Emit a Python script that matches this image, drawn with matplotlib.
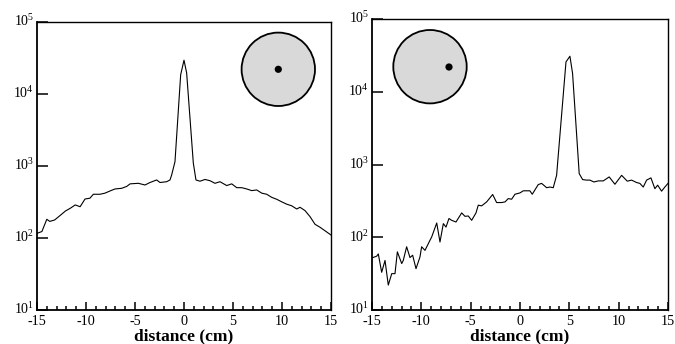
import matplotlib
matplotlib.use("Agg")
import matplotlib.pyplot as plt
import matplotlib.transforms as mtransforms
from matplotlib.patches import Circle
from matplotlib.ticker import MultipleLocator, LogLocator, NullLocator

plt.rcParams['font.family'] = ['Liberation Serif', 'DejaVu Serif']
plt.rcParams['mathtext.fontset'] = 'custom'
plt.rcParams['mathtext.rm'] = 'Liberation Serif'
plt.rcParams['mathtext.it'] = 'Liberation Serif:italic'
plt.rcParams['mathtext.bf'] = 'Liberation Serif:bold'
plt.rcParams['axes.unicode_minus'] = False

# source at the centre
left_x = [-15.0, -14.5, -14.0, -13.7, -13.2, -12.65, -12.1, -11.6, -11.1, -10.6,
          -10.1, -9.6, -9.25, -8.57, -8.06, -7.55, -7.04, -6.36, -5.85, -5.5,
          -4.66, -3.98, -3.47, -2.79, -2.45, -1.77, -1.43, -1.26, -0.92, -0.34,
          0.0, 0.27, 0.95, 1.22, 1.63, 2.14, 2.65, 3.16, 3.67, 4.36,
          4.87, 5.38, 5.89, 6.4, 6.91, 7.42, 7.93, 8.44, 8.95, 9.46,
          9.97, 10.48, 10.99, 11.5, 11.84, 12.35, 12.86, 13.37, 13.88, 14.39, 15.0]
left_y = [116, 123, 182, 170, 178, 205, 237, 259, 288, 272,
          348, 357, 405, 405, 420, 450, 480, 490, 520, 565,
          575, 545, 590, 640, 590, 605, 640, 750, 1150, 18500,
          29500, 19600, 1100, 640, 615, 650, 625, 575, 605, 535,
          565, 500, 500, 480, 455, 465, 420, 405, 367, 345,
          318, 295, 280, 253, 267, 240, 198, 155, 141, 126, 110]

# source offset to +5 cm
right_x = [-15.0, -14.52, -14.36, -14.02, -13.68, -13.35, -13.0, -12.67, -12.43, -11.99,
           -11.83, -11.49, -11.15, -10.88, -10.54, -10.14, -9.97, -9.63, -9.12, -8.95,
           -8.44, -8.11, -7.77, -7.5, -7.2, -6.93, -6.49, -5.91, -5.58, -5.24,
           -4.9, -4.46, -4.23, -3.89, -3.38, -2.77, -2.37, -1.86, -1.52, -1.19,
           -0.85, -0.51, 0.0, 0.33, 1.0, 1.24, 1.85, 2.19, 2.7, 3.03,
           3.37, 3.71, 4.66, 5.06, 5.33, 6.0, 6.35, 6.75, 7.09, 7.49,
           7.93, 8.44, 9.04, 9.62, 10.3, 10.87, 11.31, 11.82, 12.15, 12.49,
           12.83, 13.27, 13.67, 13.95, 14.35, 14.68, 15.0]
right_y = [52, 55, 59, 33, 48, 22, 31.6, 31.6, 63, 43.5,
           48, 74, 52.6, 56.6, 37, 53.5, 74, 66, 91, 101,
           157, 86, 154, 138, 181, 171, 162, 216, 194, 196,
           171, 216, 276, 270, 306, 387, 300, 300, 306, 340,
           333, 390, 407, 435, 435, 390, 530, 550, 480, 490,
           480, 710, 25700, 30800, 17800, 750, 620, 610, 610, 575,
           595, 595, 675, 535, 710, 590, 610, 565, 550, 490,
           610, 655, 465, 520, 430, 490, 550]

xticks = [-15, -10, -5, 0, 5, 10, 15]

fig = plt.figure(figsize=(6.75, 3.44), dpi=100)
W, H = 675.0, 344.0
nudge_up = mtransforms.ScaledTranslation(0, 1.5 / 72, fig.dpi_scale_trans)


def make_panel(box, x, y, circle_c, dot_c):
    ax = fig.add_axes([box[0] / W, 1 - box[3] / H, (box[1] - box[0]) / W, (box[3] - box[2]) / H])
    ax.plot(x, y, color='black', lw=0.8)
    ax.set_yscale('log')
    ax.set_ylim(10, 1e5)
    ax.set_xlim(-15, 15)
    ax.set_xticks(xticks)
    ax.set_xticklabels([str(t) for t in xticks])
    ax.xaxis.set_minor_locator(MultipleLocator(1))
    ax.yaxis.set_major_locator(LogLocator(base=10, numticks=10))
    ax.yaxis.set_minor_locator(NullLocator())
    ax.tick_params(axis='x', which='major', direction='in', length=6, width=1.1,
                   labelsize=10.2, pad=3.5, top=False)
    ax.tick_params(axis='x', which='minor', direction='in', length=3.2, width=1.1, top=False)
    ax.tick_params(axis='y', which='major', direction='in', length=8, width=1.1,
                   labelsize=10, pad=2, right=False)
    for lab in ax.get_yticklabels():
        lab.set_transform(lab.get_transform() + nudge_up)
    for s in ax.spines.values():
        s.set_linewidth(1.0)
    ax.spines['left'].set_linewidth(1.3)
    ax.spines['bottom'].set_linewidth(1.3)
    ax.set_xlabel('distance (cm)', fontsize=12.5, fontweight='bold', labelpad=0.5)

    # inset sketch of the phantom cross-section with source position
    r = 40.0
    cax = fig.add_axes([(circle_c[0] - r) / W, 1 - (circle_c[1] + r) / H, 2 * r / W, 2 * r / H])
    cax.set_xlim(circle_c[0] - r, circle_c[0] + r)
    cax.set_ylim(circle_c[1] + r, circle_c[1] - r)
    cax.axis('off')
    cax.add_patch(Circle(circle_c, 36.7, facecolor='#d9d9d9', edgecolor='black', lw=1.3))
    cax.add_patch(Circle(dot_c, 3.6, facecolor='black', edgecolor='none'))
    return ax


make_panel((37, 331, 22, 310), left_x, left_y, (278.3, 69.3), (278.3, 69.3))
make_panel((372, 668, 19, 310), right_x, right_y, (430.0, 66.7), (449.0, 67.0))

fig.savefig('out.png', dpi=100)
